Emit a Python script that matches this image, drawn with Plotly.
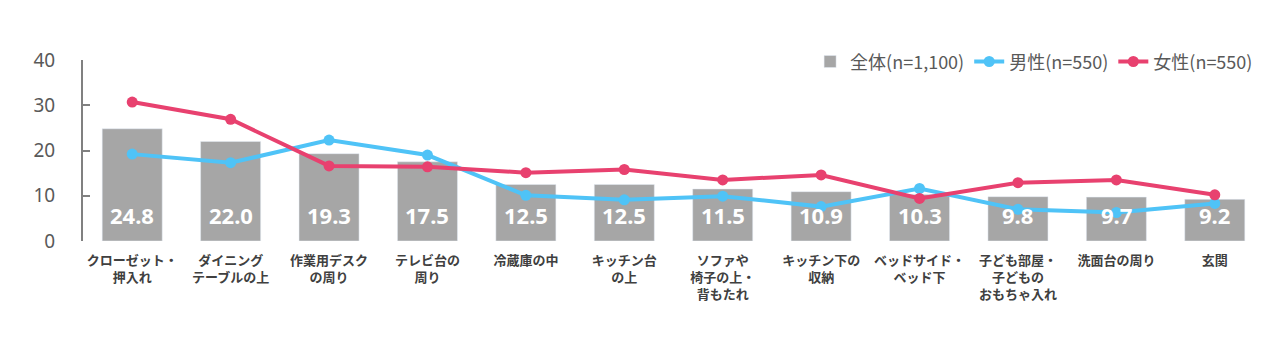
import plotly.graph_objects as go

categories = [
    "クローゼット・<br>押入れ", "ダイニング<br>テーブルの上", "作業用デスク<br>の周り", "テレビ台の<br>周り",
    "冷蔵庫の中", "キッチン台<br>の上", "ソファや<br>椅子の上・<br>背もたれ", "キッチン下の<br>収納",
    "ベッドサイド・<br>ベッド下", "子ども部屋・<br>子どもの<br>おもちゃ入れ", "洗面台の周り", "玄関",
]
total = [24.8, 22.0, 19.3, 17.5, 12.5, 12.5, 11.5, 10.9, 10.3, 9.8, 9.7, 9.2]
male = [19.2, 17.3, 22.3, 19.0, 10.1, 9.1, 9.9, 7.6, 11.6, 7.0, 6.3, 8.3]
female = [30.7, 26.9, 16.6, 16.4, 15.1, 15.8, 13.5, 14.6, 9.4, 12.9, 13.5, 10.2]
series_names = ["全体(n=1,100)", "男性(n=550)", "女性(n=550)"]
y_ticks = [0, 10, 20, 30, 40]

fig = go.Figure()
fig.add_trace(go.Bar(
    x=categories, y=total, name=series_names[0],
    marker=dict(color="#A6A6A6"), width=0.61,
))
fig.add_trace(go.Scatter(
    x=categories, y=male, name=series_names[1], mode="lines+markers",
    line=dict(color="#4FC3F7", width=4), marker=dict(size=11, color="#4FC3F7"),
))
fig.add_trace(go.Scatter(
    x=categories, y=female, name=series_names[2], mode="lines+markers",
    line=dict(color="#E8416F", width=4), marker=dict(size=11, color="#E8416F"),
))

# value labels near the base of each bar (drawn below the lines via layer order)
for cat, v in zip(categories, total):
    fig.add_annotation(
        x=cat, y=0, yshift=26, yanchor="middle", xanchor="center",
        text=f"{v:.1f}", showarrow=False,
        font=dict(color="white", size=22, family="Noto Sans", weight="bold"),
    )

fig.update_layout(
    width=1280, height=341,
    margin=dict(l=83, r=16, t=60, b=100, autoexpand=False),
    paper_bgcolor="white", plot_bgcolor="white",
    showlegend=True,
    legend=dict(orientation="h", x=0.995, xanchor="right", y=0.99, yanchor="middle",
                font=dict(size=18, color="#595959", family="Noto Sans CJK JP"),
                bgcolor="rgba(0,0,0,0)"),
)
fig.update_xaxes(
    range=[-0.5, len(categories) - 0.5],
    tickfont=dict(size=13, color="#404040", family="Noto Sans CJK JP", weight="bold"),
    showline=False, showgrid=False, ticks="", tickangle=0, automargin=False,
    ticklabelstandoff=10,
)
fig.update_yaxes(
    range=[0, 40], tickvals=y_ticks, showgrid=False, zeroline=False,
    showline=True, linecolor="#808080", linewidth=2,
    ticks="inside", ticklen=7, tickcolor="#808080", tickwidth=2,
    tickfont=dict(size=19, color="#595959", family="Noto Sans"), ticklabelstandoff=22,
    automargin=False,
)

fig.write_html("out.html")
